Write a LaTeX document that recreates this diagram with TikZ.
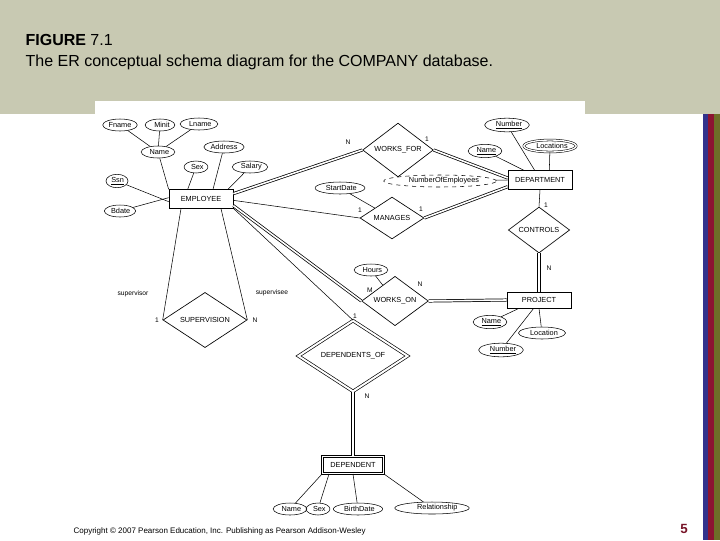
\documentclass[tikz,border=0pt]{standalone}
\usepackage{fontspec}
\setmainfont{Liberation Sans}
\usetikzlibrary{shapes.geometric}
\definecolor{band}{RGB}{200,201,178}
\definecolor{barblue}{RGB}{50,50,140}
\definecolor{barred}{RGB}{140,20,50}
\definecolor{barolive}{RGB}{110,110,40}
\definecolor{pagenum}{RGB}{120,20,40}
\tikzset{
  every node/.style={font=\fontsize{5.5}{6}\selectfont, inner sep=1pt},
  ent/.style={draw, line width=0.5pt, minimum width=48pt, minimum height=14pt},
  went/.style={draw, line width=0.5pt, double, double distance=1.2pt, minimum width=46pt, minimum height=13pt},
  rel/.style={draw, line width=0.5pt, diamond, inner sep=0pt},
  wrel/.style={draw, diamond, line width=0.5pt, double, double distance=1.5pt, inner sep=0pt},
  att/.style={draw, ellipse, inner sep=0.6pt, minimum height=9pt},
  dbl/.style={line width=0.55pt, double, double distance=1.2pt},
  lbl/.style={font=\fontsize{5}{6}\selectfont}
}
\begin{document}
\begin{tikzpicture}[x=0.75pt,y=-0.75pt]
\useasboundingbox (0,0) rectangle (720,540);
\fill[white] (0,0) rectangle (720,540);
\fill[band] (0,0) rectangle (720,114);
\fill[white] (95,101) rectangle (585,114);
\fill[barblue] (703,114) rectangle (708,540);
\fill[barred] (708,114) rectangle (714,540);
\fill[barolive] (714,114) rectangle (720,540);
\node[anchor=west,font=\fontsize{12}{14}\selectfont] (t1) at (24,40) {\textbf{FIGURE} 7.1};
\node[anchor=west,font=\fontsize{12}{14}\selectfont] (t2) at (24,62) {The ER conceptual schema diagram for the COMPANY database.};
\node[anchor=west,font=\fontsize{6}{7}\selectfont] (copy) at (72,531) {Copyright © 2007 Pearson Education, Inc. Publishing as Pearson Addison-Wesley};
\node[font=\fontsize{10}{12}\selectfont\bfseries, text=pagenum] (pn) at (684,529) {5};

% entities
\node[ent] (emp) at (201,199) {EMPLOYEE};
\node[ent] (dept) at (540,180) {DEPARTMENT};
\node[ent, minimum height=12pt] (proj) at (539,300) {PROJECT};
\node[went] (dep) at (353,465) {DEPENDENT};
% relationships
\node[rel, minimum width=53pt, minimum height=30pt] (wf) at (398,150) {WORKS\_FOR};
\node[rel, minimum width=48pt, minimum height=30pt] (man) at (392,218) {MANAGES};
\node[rel, minimum width=46pt, minimum height=30pt] (ctl) at (539,230) {CONTROLS};
\node[rel, minimum width=50pt, minimum height=30pt] (won) at (395,301) {WORKS\_ON};
\node[rel, minimum width=63pt, minimum height=38pt] (sup) at (205,320) {SUPERVISION};
\node[wrel, minimum width=82pt, minimum height=44pt] (depof) at (353,356) {DEPENDENTS\_OF};
% employee attributes
\node[att] (fn) at (120,125) {Fname};
\node[att] (mi) at (160,125) {\hspace{3pt}Minit\hspace{3pt}};
\node[att] (ln) at (199,124) {\hspace{2pt}Lname\hspace{2pt}};
\node[att] (nm) at (158,152) {\hspace{2pt}Name\hspace{2pt}};
\node[att] (adr) at (224,147) {Address};
\node[att] (sx) at (196,167) {\hspace{2pt}Sex\hspace{2pt}};
\node[att] (sal) at (250,167) {\hspace{2pt}Salary\hspace{2pt}};
\node[att] (ssn) at (117,181) {\hspace{1pt}\underline{Ssn}\hspace{1pt}};
\node[att] (bd) at (120,211) {\hspace{1pt}Bdate\hspace{1pt}};
% department attributes
\node[att] (dnum) at (507,125) {\hspace{3pt}\underline{Number}\hspace{3pt}};
\node[att] (dnm) at (485,151) {\hspace{2pt}\underline{Name}\hspace{2pt}};
\node[att, double, double distance=1pt] (loc) at (550,146) {\hspace{3pt}Locations\hspace{3pt}};
\node[att, dashed] (noe) at (440,181) {\hspace{6pt}NumberOfEmployees\hspace{6pt}};
\node[att] (sd) at (340,188) {\hspace{2pt}StartDate\hspace{2pt}};
% project
\node[att] (hrs) at (371,270) {\hspace{2pt}Hours\hspace{2pt}};
\node[att] (pnm) at (490,322) {\hspace{2pt}\underline{Name}\hspace{2pt}};
\node[att] (ploc) at (542,333) {\hspace{3pt}Location\hspace{3pt}};
\node[att] (pnum) at (501,350) {\hspace{3pt}\underline{Number}\hspace{3pt}};
% dependent attributes
\node[att] (dn) at (290,509) {\hspace{2pt}Name\hspace{2pt}};
\node[att] (ds) at (318,509) {\hspace{2pt}Sex\hspace{2pt}};
\node[att] (dbd) at (358,509) {\hspace{2pt}BirthDate\hspace{2pt}};
\node[att] (drel) at (432,508) {\hspace{8pt}Relationship\hspace{8pt}};

% attribute lines
\draw (fn) -- (nm); \draw (mi) -- (nm); \draw (ln) -- (nm);
\draw (nm) -- (emp.north west); \draw (sx) -- ([xshift=-10pt]emp.north);
\draw (adr) -- ([xshift=9pt]emp.north); \draw (sal) -- ([xshift=-4pt]emp.north east);
\draw (ssn) -- ([yshift=-2pt]emp.west); \draw (bd) -- ([yshift=1pt]emp.west);
\draw (dnum) -- ([xshift=-4pt]dept.north); \draw (dnm) -- ([xshift=-12pt]dept.north);
\draw (loc) -- ([xshift=7pt]dept.north); \draw (noe) -- (dept.west);
\draw (sd) -- (man);
\draw (hrs) -- (won);
\draw (pnm) -- ([xshift=-15pt]proj.south); \draw (pnum) -- ([xshift=-4pt]proj.south);
\draw (ploc) -- ([xshift=0pt]proj.south);
\draw (dn) -- (dep.south west); \draw (ds) -- ([xshift=-18pt]dep.south);
\draw (dbd) -- (dep.south); \draw (drel) -- (dep.south east);

% relationship lines
\draw[dbl] ([yshift=4pt]emp.east) -- (wf.west);
\draw[dbl] (wf.east) -- ([yshift=1.5pt]dept.west);
\draw ([yshift=-1pt]emp.east) -- (man.west);
\draw[dbl] (man.east) -- ([yshift=-5pt]dept.west);
\draw[dbl] ([yshift=-5pt]emp.east) -- (won.west);
\draw ([yshift=-7pt]emp.east) -- (depof.north);
\draw[dbl] (depof.south) -- (dep.north);
\draw (dept.south) -- (ctl.north);
\draw[dbl] (ctl.south) -- (proj.north);
\draw[dbl] (won.east) -- (proj.west);
\draw ([xshift=-15pt]emp.south) -- (sup.west);
\draw ([xshift=15pt]emp.south) -- (sup.east);

% cardinalities
\node[lbl] (c1) at (348,142) {N};
\node[lbl] (c2) at (427,139) {1};
\node[lbl] (c3) at (360,210) {1};
\node[lbl] (c4) at (421,209) {1};
\node[lbl] (c5) at (546,205) {1};
\node[lbl] (c6) at (549,268) {N};
\node[lbl] (c7) at (370,290) {M};
\node[lbl] (c8) at (420,284) {N};
\node[lbl] (c9) at (157,320) {1};
\node[lbl] (c10) at (255,320) {N};
\node[lbl] (c11) at (355,316) {1};
\node[lbl] (c12) at (367,396) {N};
\node[lbl] (r1) at (133,294) {supervisor};
\node[lbl] (r2) at (272,293) {supervisee};
\end{tikzpicture}
\end{document}
